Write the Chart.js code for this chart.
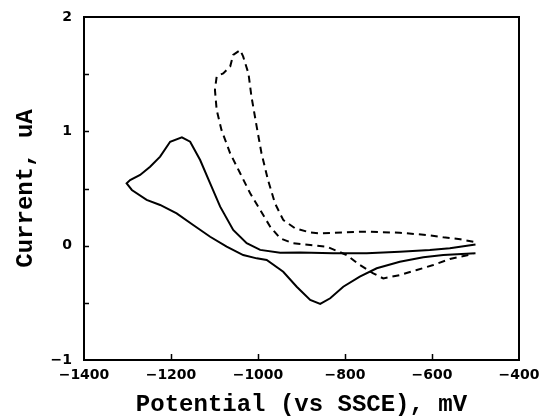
<!DOCTYPE html>
<html lang="en">
<head>
    <meta charset="UTF-8">
    <title>Cyclic voltammogram</title>
    <style>
        body { margin: 0; background: #fff; }
    </style>
</head>
<body>
    <canvas id="grafico" width="542" height="417"></canvas>

    <script src="https://cdn.jsdelivr.net/npm/chart.js"></script>
    <script>
        // solid loop, starts at -500 mV and scans negative
        const potencialSolido = [-500, -559, -605, -674, -750, -827, -903, -949, -995, -1026, -1057, -1087, -1110, -1133, -1156, -1175,
            -1202, -1225, -1248, -1271, -1294, -1302, -1290, -1256, -1225, -1187, -1149, -1110, -1072, -1034, -1003, -980,
            -942, -911, -880, -857, -834, -804, -766, -727, -674, -620, -574, -500]
        const corrienteSolido = [0.01, -0.023, -0.038, -0.053, -0.067, -0.067, -0.06, -0.061, -0.037, 0.021, 0.137, 0.341, 0.545, 0.749, 0.909, 0.948,
            0.909, 0.779, 0.691, 0.618, 0.574, 0.545, 0.487, 0.4, 0.356, 0.283, 0.181, 0.078, -0.009, -0.082, -0.111, -0.125,
            -0.228, -0.359, -0.475, -0.51, -0.46, -0.359, -0.271, -0.198, -0.14, -0.102, -0.082, -0.067]

        // dashed loop
        const potencialPunteado = [-505, -535, -574, -612, -674, -750, -827, -857, -880, -915, -942, -961, -977, -992, -1003, -1015,
            -1022, -1034, -1041, -1057, -1064, -1080, -1095, -1099, -1095, -1084, -1064, -1041, -1018, -995, -972, -949,
            -919, -880, -842, -796, -766, -735, -712, -674, -635, -597, -559, -505]
        const corrientePunteado = [0.035, 0.056, 0.073, 0.093, 0.113, 0.123, 0.113, 0.108, 0.115, 0.152, 0.225, 0.371, 0.574, 0.808, 1.041, 1.303,
            1.507, 1.653, 1.711, 1.668, 1.566, 1.507, 1.48, 1.362, 1.187, 1.012, 0.808, 0.633, 0.458, 0.312, 0.166, 0.064,
            0.021, 0.006, -0.009, -0.082, -0.169, -0.242, -0.287, -0.257, -0.213, -0.169, -0.117, -0.073]

        const ticksX = [-1400, -1200, -1000, -800, -600, -400]
        const ticksY = [-1, 0, 1, 2]

        const fuenteEje = { family: "'DejaVu Sans', Verdana, sans-serif", size: 14, weight: 'bold' }
        const fuenteTitulo = { family: "'Liberation Mono', 'Courier New', monospace", size: 24, weight: 'bold', lineHeight: 1 }

        function armarPuntos(xs, ys) {
            return xs.map((x, i) => ({ x: x, y: ys[i] }))
        }

        function conMenos(valor) {
            return valor < 0 ? '\u2212' + Math.abs(valor) : String(valor)
        }

        // frame plus inward tick marks
        const marcoPlugin = {
            id: 'marco',
            afterDraw(chart) {
                const { ctx, chartArea, scales } = chart
                ctx.save()
                ctx.strokeStyle = '#000'
                ctx.lineWidth = 2
                ctx.strokeRect(chartArea.left, chartArea.top, chartArea.right - chartArea.left, chartArea.bottom - chartArea.top)
                ctx.lineWidth = 1.5
                ctx.beginPath()
                scales.x.ticks.forEach(t => {
                    if (t.value === scales.x.min || t.value === scales.x.max) return
                    const px = Math.round(scales.x.getPixelForValue(t.value)) + 0.5
                    ctx.moveTo(px, chartArea.bottom)
                    ctx.lineTo(px, chartArea.bottom - 6)
                })
                scales.y.ticks.forEach(t => {
                    if (t.value === scales.y.min || t.value === scales.y.max) return
                    const py = Math.round(scales.y.getPixelForValue(t.value)) + 0.5
                    ctx.moveTo(chartArea.left, py)
                    ctx.lineTo(chartArea.left + 5, py)
                })
                ctx.stroke()
                ctx.restore()
            }
        }

        new Chart(document.querySelector('#grafico'), {
            type: 'scatter',
            data: {
                datasets: [
                    {
                        data: armarPuntos(potencialSolido, corrienteSolido),
                        showLine: true,
                        borderColor: '#000',
                        borderWidth: 2,
                        pointRadius: 0,
                        tension: 0
                    },
                    {
                        data: armarPuntos(potencialPunteado, corrientePunteado),
                        showLine: true,
                        borderColor: '#000',
                        borderWidth: 2,
                        borderDash: [7, 5],
                        pointRadius: 0,
                        tension: 0
                    }
                ]
            },
            options: {
                responsive: false,
                animation: false,
                devicePixelRatio: 1,
                layout: { padding: { top: 17, right: 23, left: 0, bottom: 0 } },
                plugins: {
                    legend: { display: false },
                    tooltip: { enabled: false }
                },
                scales: {
                    x: {
                        type: 'linear',
                        min: ticksX[0],
                        max: ticksX[ticksX.length - 1],
                        grid: { display: false, drawTicks: false },
                        border: { display: false },
                        afterBuildTicks: (escala) => { escala.ticks = ticksX.map(v => ({ value: v })) },
                        ticks: {
                            color: '#000',
                            font: fuenteEje,
                            padding: 7,
                            maxRotation: 0,
                            callback: (v) => conMenos(v)
                        },
                        title: {
                            display: true,
                            text: 'Potential (vs SSCE), mV',
                            color: '#000',
                            font: fuenteTitulo,
                            padding: { top: 0, bottom: 0 }
                        },
                        afterFit: (escala) => {
                            escala.height = 57
                            escala.paddingLeft = 0
                            escala.paddingRight = 0
                        }
                    },
                    y: {
                        type: 'linear',
                        min: ticksY[0],
                        max: ticksY[ticksY.length - 1],
                        grid: { display: false, drawTicks: false },
                        border: { display: false },
                        ticks: {
                            color: '#000',
                            font: fuenteEje,
                            padding: 12,
                            stepSize: 0.5,
                            callback: (v) => ticksY.includes(v) ? conMenos(v) : ''
                        },
                        title: {
                            display: true,
                            text: 'Current, uA',
                            color: '#000',
                            font: fuenteTitulo,
                            padding: { top: 14, bottom: 0 }
                        },
                        afterFit: (escala) => {
                            escala.width = 84
                            escala.paddingTop = 0
                            escala.paddingBottom = 0
                        }
                    }
                }
            },
            plugins: [marcoPlugin]
        })
    </script>
</body>
</html>
